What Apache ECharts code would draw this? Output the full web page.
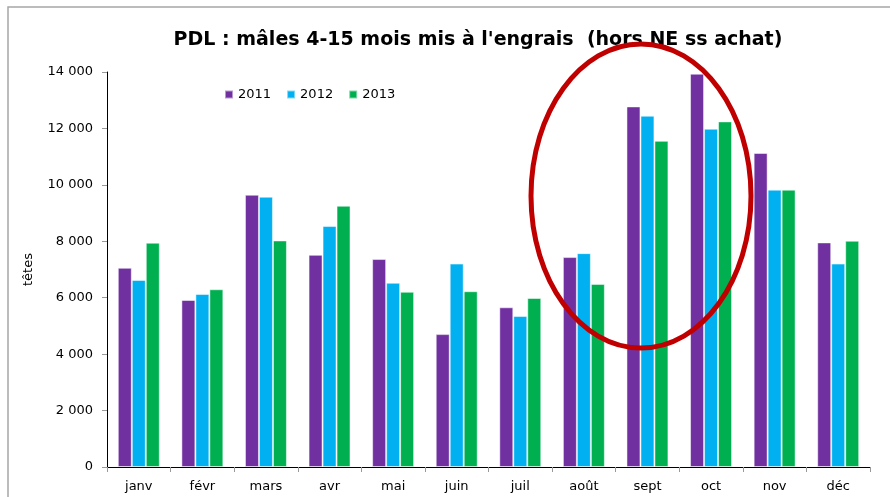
<!DOCTYPE html>
<html>
<head>
<meta charset="utf-8">
<script src="https://cdn.jsdelivr.net/npm/echarts@6/dist/echarts.min.js"></script>
<style>
  html, body { margin: 0; padding: 0; background: #fff; }
  #chart { width: 890px; height: 497px; }
</style>
</head>
<body>
<div id="chart"></div>
<script>
  // mois
  var months = ['janv', 'févr', 'mars', 'avr', 'mai', 'juin', 'juil', 'août', 'sept', 'oct', 'nov', 'déc'];
  var years = ['2011', '2012', '2013'];
  // têtes par mois
  var v2011 = [7060, 5920, 9650, 7520, 7370, 4710, 5660, 7440, 12780, 13940, 11130, 7960];
  var v2012 = [6630, 6130, 9580, 8540, 6530, 7210, 5350, 7580, 12450, 11990, 9830, 7210];
  var v2013 = [7950, 6300, 8030, 9260, 6210, 6230, 5990, 6490, 11560, 12250, 9830, 8020];
  var colors = ['#7030A0', '#00B0F0', '#00B050'];

  var font = 'DejaVu Sans';
  var chart = echarts.init(document.getElementById('chart'));

  function fmt(v) {
    return String(v).replace(/\B(?=(\d{3})+(?!\d))/g, ' ');
  }

  var data = [v2011, v2012, v2013];
  var series = years.map(function (y, i) {
    return {
      name: y,
      type: 'bar',
      data: data[i],
      barGap: '0%',
      barCategoryGap: '34%',
      itemStyle: { color: colors[i], borderColor: 'rgba(255,255,255,0.5)', borderWidth: 1 }
    };
  });

  chart.setOption({
    animation: false,
    color: colors,
    title: {
      text: "PDL : mâles 4-15 mois mis à l'engrais  (hors NE ss achat)",
      left: 473,
      textAlign: 'center',
      top: 26,
      textStyle: { fontFamily: font, fontWeight: 'bold', fontSize: 19, color: '#000' }
    },
    legend: {
      data: years,
      left: 219,
      top: 83,
      itemWidth: 8,
      itemHeight: 8,
      itemGap: 15,
      icon: 'rect',
      textStyle: { fontFamily: font, fontSize: 13, color: '#000' }
    },
    grid: { left: 107, right: 20, top: 72, bottom: 30 },
    xAxis: {
      type: 'category',
      data: months,
      axisLine: { lineStyle: { color: '#000', width: 1 } },
      axisTick: { show: true, length: 5, lineStyle: { color: '#999' } },
      axisLabel: { fontFamily: font, fontSize: 13, color: '#000', margin: 13 }
    },
    yAxis: {
      type: 'value',
      min: 0,
      max: 14000,
      interval: 2000,
      name: 'têtes',
      nameLocation: 'middle',
      nameGap: 72,
      nameTextStyle: { fontFamily: font, fontSize: 13, color: '#000' },
      axisLine: { show: true, lineStyle: { color: '#000', width: 1 } },
      axisTick: { show: true, length: 5, lineStyle: { color: '#999' } },
      splitLine: { show: false },
      axisLabel: { fontFamily: font, fontSize: 13, color: '#000', margin: 14, formatter: fmt }
    },
    graphic: [
      {
        type: 'rect',
        shape: { x: 8, y: 7, width: 1000, height: 600 },
        style: { fill: 'none', stroke: '#a6a6a6', lineWidth: 1.5 },
        silent: true
      },
      {
        type: 'ellipse',
        shape: { cx: 641, cy: 196, rx: 110, ry: 152 },
        style: { fill: 'none', stroke: '#C00000', lineWidth: 5 },
        z: 100,
        silent: true
      }
    ],
    series: series
  });
</script>
</body>
</html>
